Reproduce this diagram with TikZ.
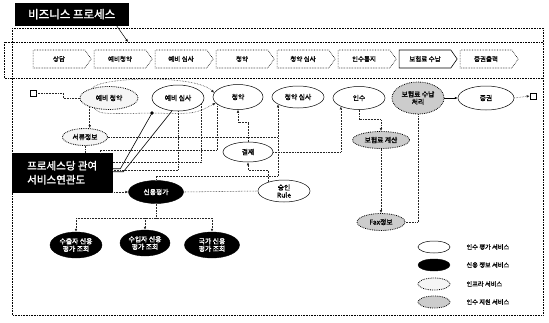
\documentclass[tikz,border=0pt]{standalone}
\usepackage{fontspec}
\newfontfamily\kr{Noto Sans CJK KR}
\newfontfamily\krb[FakeBold=1.6]{Noto Sans CJK KR}
\usetikzlibrary{shapes.geometric,shapes.symbols,arrows.meta}
\tikzset{
  base/.style={ellipse, inner sep=0pt, align=center, font=\krb\fontsize{6.8}{7.6}\selectfont},
  wsvc/.style={base, draw=black, line width=0.5pt, fill=white},
  bsvc/.style={base, draw=black, fill=black, text=white},
  isvc/.style={base, draw=black, densely dotted, line width=0.8pt, fill=gray!8},
  ssvc/.style={base, draw=black, densely dotted, line width=0.8pt, fill=gray!40},
  chev/.style={signal, signal to=east, signal pointer angle=110, draw=black, densely dotted,
    line width=0.6pt, minimum width=58pt, minimum height=18pt, inner sep=0pt,
    font=\krb\fontsize{6.5}{7}\selectfont},
  link/.style={densely dotted, line width=0.55pt, draw=black!85},
  arr/.style={-{Latex[length=3pt,width=2.6pt]}},
  tag/.style={draw=black, fill=black, text=white, inner sep=2pt, align=left,
    font=\krb\fontsize{10.5}{14}\selectfont},
  legtxt/.style={anchor=west, font=\krb\fontsize{6.2}{7}\selectfont},
  frame/.style={densely dotted, line width=0.6pt},
  sq/.style={draw=black, line width=0.5pt, minimum size=6pt, inner sep=0pt}
}
\begin{document}
\begin{tikzpicture}[x=1pt,y=-1pt]
\useasboundingbox (0,0) rectangle (549,322);
% frames
\draw[frame] (12,28) rectangle (543,315);
\draw[frame] (4,42) rectangle (543,78);
% title
\node[tag, minimum width=113pt, minimum height=22pt, anchor=north west, font=\krb\fontsize{11.5}{14}\selectfont] (title) at (15,3) {비즈니스 프로세스};
\coordinate (bandtop) at (128,42);
\draw[arr, line width=0.5pt] ([xshift=-12pt]title.south east) -- (bandtop);
% process chevrons
\node[chev] (p1) at (59,59) {상담};
\node[chev] (p2) at (120,59) {예비청약};
\node[chev] (p3) at (181,59) {예비 심사};
\node[chev] (p4) at (242,59) {청약};
\node[chev] (p5) at (303,59) {청약 심사};
\node[chev] (p6) at (364,59) {인수통지};
\node[chev, solid] (p7) at (425,59) {보험료 수납};
\node[chev] (p8) at (486,59) {증권출력};
% service nodes
\node[sq] (sqL) at (33,93) {};
\node[isvc, minimum width=58pt, minimum height=23pt] (yc) at (109,98) {예비 청약};
\node[wsvc, minimum width=52pt, minimum height=26pt] (ys) at (178,98) {예비 심사};
\node[wsvc, minimum width=50pt, minimum height=25pt] (ca) at (238,97) {청약};
\node[wsvc, minimum width=52pt, minimum height=22pt] (cs) at (298,97) {청약 심사};
\node[wsvc, minimum width=52pt, minimum height=23pt] (ins) at (359,98) {인수};
\node[ssvc, minimum width=52pt, minimum height=32pt] (sn) at (418,98) {보험료 수납\\처리};
\node[wsvc, minimum width=56pt, minimum height=24pt] (jg) at (486,98) {증권};
\node[sq] (sqR) at (533,96) {};
\node[isvc, minimum width=45pt, minimum height=17pt] (sr) at (85,137) {서류정보};
\node[wsvc, minimum width=50pt, minimum height=20pt] (gj) at (248,152) {결재};
\node[ssvc, minimum width=57pt, minimum height=17pt] (bc) at (381,140) {보험료 계산};
\node[wsvc, minimum width=52pt, minimum height=22pt] (sg) at (284,191) {승인\\Rule};
\node[ssvc, minimum width=48pt, minimum height=17pt] (fax) at (381,222) {Fax정보};
\node[bsvc, minimum width=55pt, minimum height=23pt] (cr) at (156,192) {신용평가};
\node[bsvc, minimum width=52pt, minimum height=26pt] (c1) at (76,245) {수출자 신용\\평가 조회};
\node[bsvc, minimum width=50pt, minimum height=26pt] (c2) at (145,243) {수입자 신용\\평가 조회};
\node[bsvc, minimum width=55pt, minimum height=26pt] (c3) at (212,245) {국가 신용\\평가 조회};
% process label
\node[tag, minimum width=100pt, minimum height=39pt, anchor=north west] (lbl) at (12,153) {프로세스당 관여\\서비스연관도};
% helper coordinates
\coordinate (h150) at (100,150);
\coordinate (h162) at (0,162);
\coordinate (h170) at (0,170);
\coordinate (h176) at (0,176);
\coordinate (h218) at (0,218);
% connectors
\draw[link] (sqL.east) -- (63,93) |- (yc.west);
\node[circle, fill=black, inner sep=1.4pt] (dot) at (152,113) {};
\draw[link, arr] (yc.150) .. controls (100,77) and (195,74) .. (ca.170);
\draw[link] (yc.215) .. controls (100,114) .. (dot.center);
\draw[link, arr] (dot.center) .. controls (195,114) .. (ca.195);
\draw[line width=0.6pt] ([yshift=4pt]lbl.east) -- ++(8,0) -- (dot.center);
\draw[line width=0.6pt] ([yshift=1pt]lbl.east) -- ++(11,0) -- (ys.245);
\draw[link, arr] (yc.205) -- (yc.205 |- sr.north);
\draw[link] (sr.east) -- (sr.east -| cs.200);
\draw[link, {Latex[length=3pt,width=2.6pt]}-] (cs.200) -- (cs.200 |- h176) -| (cr.north);
\draw[link, arr] (gj.north) -- ++(0,-19) -| (ca.south);
\draw[link, arr] (gj.east) -| (ins.205);
\draw[link, arr] (ins.south) -- ++(0,10) -| (bc.north);
\draw[link, arr] (bc.south) -- (fax.north);
\draw[link] (sn.south) |- (fax.east);
\draw[line width=0.6pt, arr] (sn.east) -- (jg.west);
\draw[link, arr] (jg.east) -- (sqR.west);
\draw[link, arr] (sg.150) -- (sg.150 |- h170) -| (gj.south);
\draw[link] (cr.east) -- (sg.west);
\draw[link, arr] (cr.west -| lbl.east) -- (cr.west);
\draw[link] (cr.south) -- (cr.south |- h218);
\draw[link] (c1.north |- h218) -- (c3.north |- h218);
\draw[link, arr] (c1.north |- h218) -- (c1.north);
\draw[link, arr] (c2.north |- h218) -- (c2.north);
\draw[link, arr] (c3.north |- h218) -- (c3.north);
\draw[link] (ys.south) |- (lbl.east |- h170);
\draw[link] (ys.345) |- (lbl.east |- h162);
\draw[link] (ca.200) |- (h150) -- (h150 |- lbl.north);
\draw[link] (sr.south) -- (sr.south |- lbl.north);
% legend
\node[wsvc, minimum width=32pt, minimum height=12pt] (l1) at (434,247) {};
\node[bsvc, minimum width=32pt, minimum height=12pt] (l2) at (434,265) {};
\node[isvc, minimum width=32pt, minimum height=12pt] (l3) at (434,284) {};
\node[ssvc, minimum width=32pt, minimum height=12pt] (l4) at (434,302) {};
\node[legtxt] (t1) at (463,247) {인수 평가 서비스};
\node[legtxt] (t2) at (463,265) {신용 정보 서비스};
\node[legtxt] (t3) at (463,284) {인프라 서비스};
\node[legtxt] (t4) at (463,302) {인수 지원 서비스};
\end{tikzpicture}
\end{document}
